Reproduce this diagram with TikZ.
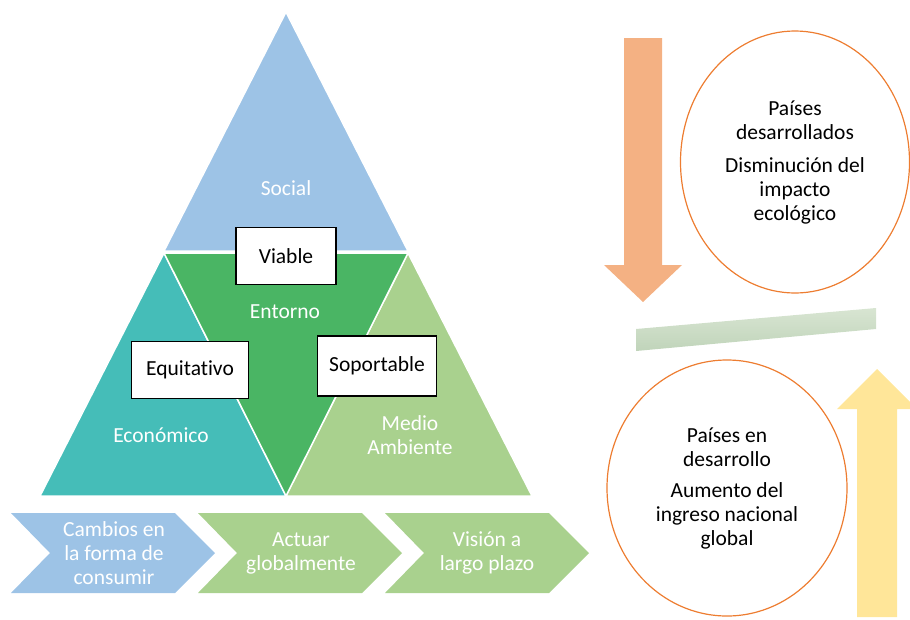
\documentclass[tikz,border=0pt]{standalone}
\usepackage{fontspec}
\setmainfont{Carlito}[Ligatures=NoCommon]
\usetikzlibrary{shapes.geometric}
\definecolor{socialblue}{RGB}{157,195,230}
\definecolor{entornogreen}{RGB}{74,181,100}
\definecolor{ecoteal}{RGB}{69,189,184}
\definecolor{medioverde}{RGB}{169,209,142}
\definecolor{arroworange}{RGB}{244,177,131}
\definecolor{arrowyellow}{RGB}{255,230,153}
\definecolor{ringorange}{RGB}{237,125,49}
\definecolor{barlight}{RGB}{216,229,210}
\definecolor{bardark}{RGB}{192,212,186}
\tikzset{
  tri/.style={draw=white, line width=1.5pt, line join=miter},
  lbl/.style={text=white, align=center},
  tag/.style={draw=black, line width=1.2pt, fill=white, minimum height=57pt, inner sep=0pt},
  ring/.style={draw=ringorange, line width=1.2pt, ellipse, align=center, inner sep=0pt},
}
\begin{document}
\begin{tikzpicture}[x=1pt, y=-1pt, font=\fontsize{21.5}{24}\selectfont]
\useasboundingbox (0,0) rectangle (910,619);
% pyramid
\filldraw[tri, fill=socialblue] (286,12) -- (408,251) -- (164,251) -- cycle;
\filldraw[tri, fill=ecoteal] (40,496) -- (164,253) -- (286,496) -- cycle;
\filldraw[tri, fill=medioverde] (286,496) -- (408,253) -- (532,496) -- cycle;
\filldraw[tri, fill=entornogreen] (164,253) -- (408,253) -- (286,496) -- cycle;
\node[lbl] (social) at (286,188) {Social};
\node[lbl] (entorno) at (285,312) {Entorno};
\node[lbl] (economico) at (161,435) {Económico};
\node[lbl] (medio) at (410,435) {Medio\\Ambiente};
\node[tag, minimum width=100pt] (viable) at (286,256) {Viable};
\node[tag, minimum width=117pt] (equitativo) at (190,370) {Equitativo};
\node[tag, minimum width=119pt, minimum height=60pt] (soportable) at (377,366) {Soportable};
% chevrons
\foreach \x/\c in {11/socialblue,198/medioverde,385/medioverde}
  \fill[\c] (\x,513) -- ++(164,0) -- ++(40,40) -- ++(-40,40) -- ++(-164,0) -- ++(39,-40) -- cycle;
\node[lbl] (cambios) at (114,553) {Cambios en\\la forma de\\consumir};
\node[lbl] (actuar) at (301,553) {Actuar\\globalmente};
\node[lbl] (vision) at (487,553) {Visión a\\largo plazo};
% right side
\fill[arroworange] (624,38) -- (662,38) -- (662,265) -- (682,265) -- (643,302) -- (604,265) -- (624,265) -- cycle;
\fill[arrowyellow] (857,617) -- (857,409) -- (837,409) -- (877,369) -- (917,409) -- (897,409) -- (897,617) -- cycle;
\shade[top color=barlight, bottom color=bardark] (636,329) -- (876,308) -- (876,329) -- (636,351) -- cycle;
\node[ring, minimum width=229pt, minimum height=262pt] (desarrollados) at (795,162)
  {Países\\desarrollados\\[9pt]Disminución del\\impacto\\ecológico};
\node[ring, minimum width=240pt, minimum height=256pt] (endesarrollo) at (727,488)
  {Países en\\desarrollo\\[7pt]Aumento del\\ingreso nacional\\global};
\end{tikzpicture}
\end{document}
